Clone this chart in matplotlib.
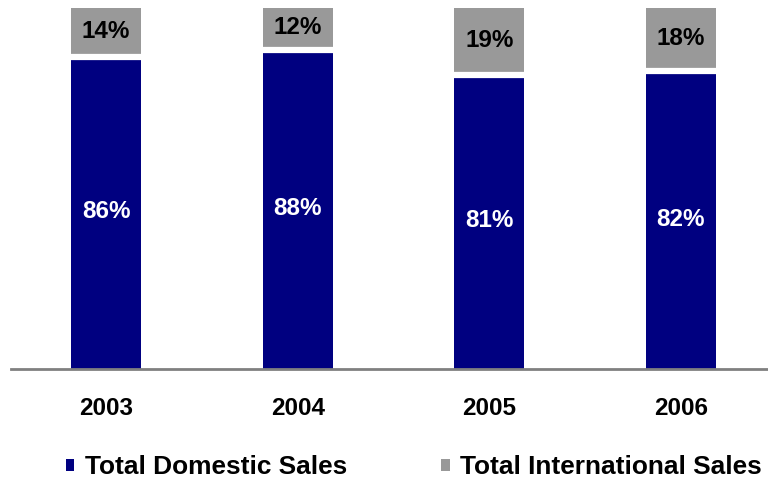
import matplotlib.pyplot as plt
import numpy as np

plt.rcParams['font.family'] = ['Liberation Sans', 'DejaVu Sans']

years = ['2003', '2004', '2005', '2006']
domestic = [86, 88, 81, 82]
international = [14, 12, 19, 18]

navy = '#000080'
grey = '#999999'

fig = plt.figure(figsize=(7.68, 4.83), dpi=100)
ax = fig.add_axes([11 / 768, 114 / 483, 757 / 768, 361 / 483])

x = np.arange(len(years))
w = 0.365
b1 = ax.bar(x, domestic, w, color=navy, label='Total Domestic Sales')
b2 = ax.bar(x, international, w, bottom=domestic, color=grey,
            label='Total International Sales')
# thin white gap between the two segments
ax.hlines(np.array(domestic) + 0.5, x - w / 2 - 0.01, x + w / 2 + 0.01,
          color='white', lw=4.5)

for xi, d, i in zip(x, domestic, international):
    ax.text(xi, d / 2 + 0.5, f'{d}%', ha='center', va='center', color='white',
            fontsize=17.5, fontweight='bold')
    ax.text(xi, d + i / 2 + 0.5, f'{i}%', ha='center', va='center', color='black',
            fontsize=17.5, fontweight='bold')

ax.set_xlim(-0.496, 3.454)
ax.set_ylim(0, 100)
for s in ['top', 'right', 'left']:
    ax.spines[s].set_visible(False)
ax.spines['bottom'].set_color('#808080')
ax.spines['bottom'].set_linewidth(2)
ax.set_yticks([])
ax.set_xticks(x)
ax.set_xticklabels(years, fontsize=17.5, fontweight='bold')
ax.tick_params(axis='x', length=0, pad=20)

fig.legend(handles=[b1, b2], loc='center', bbox_to_anchor=(0.539, 0.033),
           ncol=2, frameon=False, prop={'size': 18.9, 'weight': 'bold'},
           handlelength=0.32, handleheight=0.32, handletextpad=0.4,
           columnspacing=3.6, borderpad=0, borderaxespad=0)

fig.savefig('out.png', dpi=100)
